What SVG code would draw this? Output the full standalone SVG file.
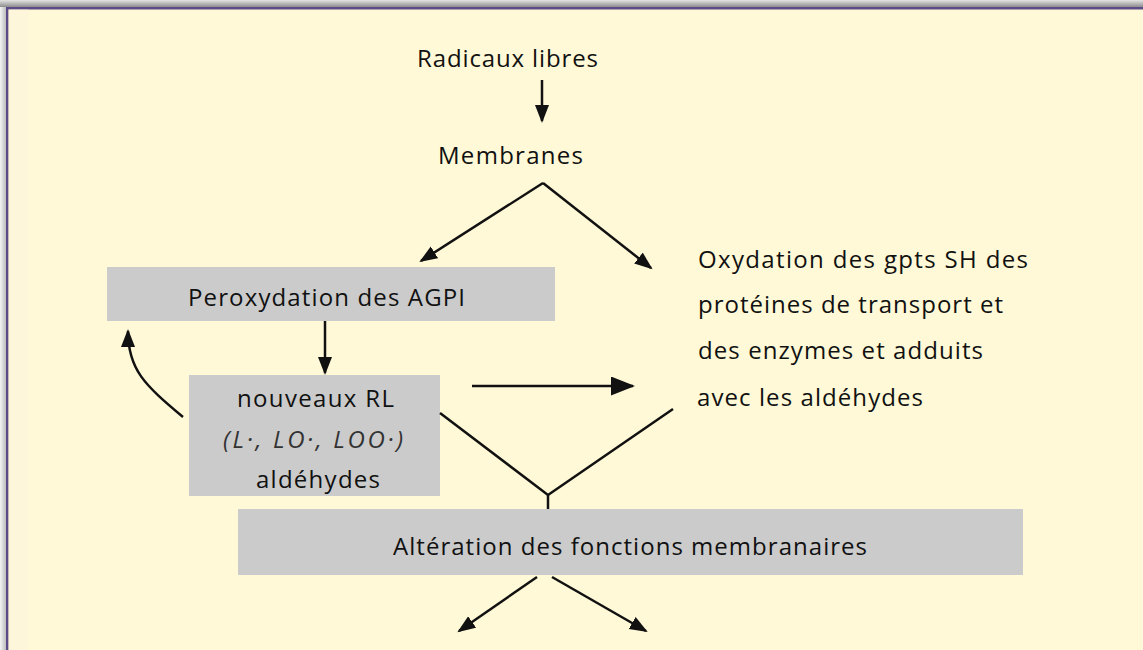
<svg xmlns="http://www.w3.org/2000/svg" width="1143" height="650" viewBox="0 0 1143 650">
<defs>
<style>
.t{font-family:"Open Sans","Liberation Sans",sans-serif;font-size:24px;fill:#111}
.it{font-style:italic;fill:#333}
.box{fill:#cbcbcb}
.c{stroke:#111;stroke-width:2.5;fill:none}
</style>
<linearGradient id="topbar" x1="0" y1="0" x2="0" y2="1">
<stop offset="0" stop-color="#e4e4e4"/>
<stop offset="1" stop-color="#8c8c8c"/>
</linearGradient>
<linearGradient id="leftbar" x1="0" y1="0" x2="1" y2="0">
<stop offset="0" stop-color="#f4f4f4"/>
<stop offset="1" stop-color="#bdbdbd"/>
</linearGradient>
<marker id="ah" markerUnits="userSpaceOnUse" markerWidth="20" markerHeight="16" refX="16" refY="7" orient="auto">
<path d="M0,0 L18,7 L0,14 z" fill="#111"/>
</marker>
<marker id="ahb" markerUnits="userSpaceOnUse" markerWidth="26" markerHeight="22" refX="22" refY="9.5" orient="auto">
<path d="M0,0 L24,9.5 L0,19 z" fill="#111"/>
</marker>
</defs>
<rect x="0" y="0" width="1143" height="650" fill="#fff9d7"/>
<rect x="0" y="0" width="1143" height="7" fill="url(#topbar)"/>
<rect x="0" y="7" width="6" height="643" fill="url(#leftbar)"/>
<rect x="6" y="7" width="1137" height="2.5" fill="#5b4b86"/>
<rect x="6" y="7" width="2.5" height="643" fill="#5b4b86"/>
<rect x="8.5" y="9.5" width="20" height="640.5" fill="#fdf3dc" opacity="0.6"/>

<g id="radicaux"><text class="t" x="417" y="67" font-size="23" textLength="181" lengthAdjust="spacing">Radicaux libres</text></g>
<g id="membranes"><text class="t" x="438" y="164" textLength="145" lengthAdjust="spacing">Membranes</text></g>
<g id="peroxydation">
<rect class="box" x="107" y="267" width="448" height="54"/>
<text class="t" x="188" y="306" textLength="277" lengthAdjust="spacing">Peroxydation des AGPI</text>
</g>
<g id="nouveaux">
<rect class="box" x="189" y="375" width="251" height="121"/>
<text class="t" x="237" y="407" textLength="157" lengthAdjust="spacing">nouveaux RL</text>
<text class="t it" x="223" y="448" textLength="180" lengthAdjust="spacing">(L·, LO·, LOO·)</text>
<text class="t" x="256" y="488" textLength="124" lengthAdjust="spacing">aldéhydes</text>
</g>
<g id="oxydation">
<text class="t" x="698" y="268" textLength="330" lengthAdjust="spacing">Oxydation des gpts SH des</text>
<text class="t" x="698" y="313" textLength="305" lengthAdjust="spacing">protéines de transport et</text>
<text class="t" x="698" y="359" textLength="285" lengthAdjust="spacing">des enzymes et adduits</text>
<text class="t" x="697" y="406" textLength="226" lengthAdjust="spacing">avec les aldéhydes</text>
</g>
<g id="alteration">
<rect class="box" x="238" y="509" width="785" height="66"/>
<text class="t" x="393" y="555" textLength="474" lengthAdjust="spacing">Altération des fonctions membranaires</text>
</g>

<g id="connectors">
<line class="c" x1="542" y1="80" x2="542" y2="121" marker-end="url(#ah)"/>
<line class="c" x1="543" y1="183" x2="421" y2="261" marker-end="url(#ah)"/>
<line class="c" x1="543" y1="183" x2="651" y2="268" marker-end="url(#ah)"/>
<line class="c" x1="325" y1="321" x2="325" y2="373" marker-end="url(#ah)"/>
<path class="c" d="M183,417 C145,385 128,370 128,331" marker-end="url(#ah)"/>
<line class="c" x1="472" y1="386" x2="633" y2="386" marker-end="url(#ahb)"/>
<polyline class="c" points="440,413 548,495 673,409"/>
<line class="c" x1="548" y1="495" x2="548" y2="509"/>
<line class="c" x1="537" y1="577" x2="459" y2="631" marker-end="url(#ah)"/>
<line class="c" x1="552" y1="577" x2="646" y2="631" marker-end="url(#ah)"/>
</g>
</svg>
